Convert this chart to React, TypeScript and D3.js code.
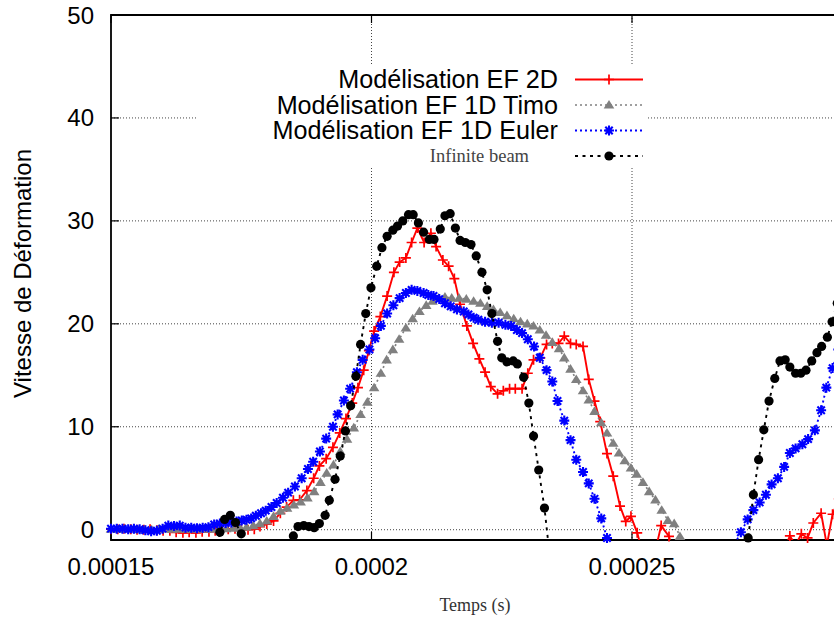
import React from 'react';
import * as d3 from 'd3';

// time in microseconds, value = strain rate
const US = 1e-6;
const xTickValues = [0.00015, 0.0002, 0.00025];
const yTickValues = [0, 10, 20, 30, 40, 50];
const seriesNames = ['Modélisation EF 2D', 'Modélisation EF 1D Timo', 'Modélisation EF 1D Euler', 'Infinite beam'];

const ef2D: [number, number][] = [
  [150.0, 0.05], [151.3, 0.05], [152.5, 0.1], [153.8, 0.05], [155.0, 0.0], [156.3, 0.0], [157.5, 0.05], [158.8, -0.05], [160.0, -0.1], [161.3, -0.1],
  [162.5, -0.25], [163.8, -0.3], [165.0, -0.25], [166.3, -0.3], [167.5, -0.2], [168.8, -0.2], [170.0, -0.1], [171.3, 0.0], [172.5, 0.05], [173.8, 0.1],
  [175.0, 0.05], [176.3, 0.0], [177.5, 0.05], [178.6, 0.3], [179.9, 0.55], [181.2, 0.85], [182.5, 1.6], [183.7, 2.2], [185.0, 2.85], [186.2, 2.9],
  [187.6, 3.8], [188.9, 5.0], [190.0, 6.2], [191.3, 6.9], [192.6, 8.0], [193.9, 9.4], [195.1, 10.8], [196.3, 12.3], [197.4, 13.8], [198.5, 15.5],
  [199.5, 17.4], [200.5, 19.3], [201.7, 20.7], [203.0, 22.7], [204.3, 25.0], [205.4, 26.0], [206.6, 26.4], [207.7, 27.9], [208.8, 29.3], [210.1, 27.9],
  [211.4, 28.8], [212.4, 27.5], [213.7, 26.2], [214.8, 25.6], [215.9, 24.4], [217.0, 21.9], [218.3, 19.8], [219.5, 18.1], [220.7, 16.6], [221.8, 15.3],
  [222.9, 13.9], [224.2, 13.2], [225.3, 13.5], [226.5, 13.7], [227.6, 13.7], [228.9, 13.7], [230.0, 15.2], [231.1, 16.5], [232.4, 16.7], [233.6, 18.0],
  [234.7, 18.1], [235.9, 18.1], [237.0, 18.8], [238.2, 18.1], [239.3, 18.0], [240.6, 17.8], [241.7, 14.6], [242.8, 12.5], [243.9, 10.5], [245.2, 7.4],
  [246.4, 5.2], [247.7, 2.3], [248.8, 0.8], [249.8, 1.3], [251.0, -0.3], [252.2, -2.5], [253.4, -3.5], [254.5, -2.0], [255.6, 0.4], [257.1, -0.65],
  [258.3, -3.0], [262.0, -5.0], [268.0, -6.0], [274.0, -5.0], [278.0, -3.0], [279.2, -2.0], [280.3, -0.6], [281.4, -1.5], [282.5, -0.4], [283.7, -0.8],
  [284.8, 0.65], [286.3, 1.6], [287.4, -1.5], [288.5, 1.5], [289.7, 3.0],
];

const ef1DTimo: [number, number][] = [
  [150.0, 0.05], [151.3, 0.05], [152.6, 0.05], [153.9, 0.05], [155.2, 0.0], [156.5, 0.0], [157.8, 0.0], [159.1, 0.05], [160.4, 0.05], [161.7, 0.05],
  [163.0, 0.05], [164.3, 0.05], [165.6, 0.05], [166.9, 0.05], [168.2, 0.05], [169.5, 0.05], [170.8, 0.1], [172.1, 0.1], [173.4, 0.15], [174.7, 0.2],
  [176.0, 0.25], [177.3, 0.4], [178.6, 0.6], [179.9, 0.85], [181.2, 1.3], [182.5, 1.8], [183.8, 2.1], [185.1, 2.4], [186.4, 2.7], [187.7, 3.1],
  [189.0, 3.7], [190.2, 4.6], [191.4, 5.5], [192.7, 6.3], [194.0, 7.6], [195.3, 8.8], [196.6, 9.9], [197.9, 11.2], [199.2, 12.4], [200.5, 13.8],
  [201.8, 15.2], [202.9, 16.5], [204.1, 17.5], [205.3, 18.5], [206.6, 19.6], [207.9, 20.5], [209.2, 21.2], [210.5, 21.8], [211.7, 22.2], [212.9, 22.5],
  [214.1, 22.6], [215.4, 22.5], [216.8, 22.5], [218.2, 22.4], [219.6, 22.2], [220.9, 22.0], [222.2, 21.7], [223.4, 21.4], [224.7, 21.1], [226.0, 20.8],
  [227.3, 20.5], [228.6, 20.2], [229.9, 20.0], [231.1, 19.8], [232.3, 19.4], [233.5, 18.9], [234.7, 18.2], [236.0, 17.6], [237.0, 16.7], [238.2, 15.6],
  [239.3, 14.6], [240.6, 13.5], [241.7, 12.6], [242.8, 11.5], [244.1, 10.4], [245.2, 9.4], [246.4, 8.4], [247.5, 7.45], [248.6, 6.7], [249.8, 6.0],
  [250.9, 5.4], [252.1, 4.6], [253.3, 3.7], [254.5, 2.9], [255.7, 1.9], [256.9, 0.9], [258.1, 0.6], [259.2, -0.65], [260.4, -2.0], [265.0, -5.0],
  [270.0, -8.0], [280.0, -10.0], [292.0, -10.0],
];

const ef1DEuler: [number, number][] = [
  [150.0, 0.1], [151.1, 0.1], [152.2, 0.1], [153.3, 0.05], [154.4, 0.1], [155.5, 0.05], [156.6, -0.05], [157.7, -0.15], [158.8, -0.1], [159.9, 0.1],
  [161.0, 0.4], [162.1, 0.35], [163.2, 0.4], [164.3, 0.2], [165.4, 0.2], [166.5, 0.15], [167.6, 0.2], [168.7, 0.25], [169.8, 0.5], [170.9, 0.6],
  [172.0, 0.65], [173.1, 0.7], [174.1, 0.8], [175.1, 0.9], [176.0, 0.97], [176.9, 1.1], [177.8, 1.35], [178.8, 1.6], [179.7, 1.85], [180.8, 2.2],
  [181.8, 2.6], [183.0, 3.1], [184.0, 3.6], [185.3, 4.2], [186.6, 5.0], [187.8, 5.9], [188.8, 6.6], [190.1, 7.6], [191.3, 8.85], [192.6, 10.0],
  [193.5, 11.2], [194.7, 12.55], [195.9, 13.7], [197.2, 15.3], [198.3, 16.5], [199.6, 17.5], [200.7, 18.6], [201.8, 19.8], [203.0, 21.0], [204.2, 21.8],
  [205.4, 22.5], [206.6, 23.0], [207.7, 23.3], [208.8, 23.2], [210.0, 23.0], [210.9, 22.8], [211.9, 22.7], [213.0, 22.4], [214.1, 22.0], [215.2, 21.7],
  [216.4, 21.4], [217.7, 21.2], [218.6, 20.9], [219.6, 20.6], [220.5, 20.4], [221.8, 20.2], [223.1, 20.1], [224.4, 20.1], [225.7, 19.9], [226.8, 19.8],
  [227.9, 19.4], [228.9, 19.1], [230.0, 18.5], [231.2, 17.8], [232.3, 16.7], [233.6, 15.5], [234.7, 14.4], [235.7, 12.5], [237.0, 10.6], [238.2, 8.7],
  [239.3, 6.8], [240.6, 5.6], [241.7, 4.5], [242.8, 3.0], [244.1, 1.1], [245.2, -0.8], [246.4, -2.5], [250.0, -5.0], [255.0, -7.0], [260.0, -6.0],
  [265.0, -4.0], [268.5, -2.5], [269.7, -1.4], [270.9, -0.25], [272.2, 1.0], [273.3, 1.9], [274.5, 2.65], [275.7, 3.4], [276.8, 4.4], [278.0, 5.0],
  [279.2, 6.1], [280.3, 7.45], [281.4, 7.9], [282.7, 8.3], [283.8, 8.8], [285.1, 9.65], [286.3, 11.6], [287.3, 13.8], [288.5, 15.7], [289.6, 17.5],
];

const infiniteBeam: [number, number][] = [
  [150.0, -4.0], [160.0, -4.0], [166.0, -3.5], [169.9, -2.8], [170.9, -0.25], [171.8, 1.0], [172.9, 1.4], [173.9, 0.7], [175.0, -0.4], [176.0, -2.5],
  [180.0, -4.0], [184.0, -2.5], [185.0, -0.6], [185.9, 0.3], [187.0, 0.4], [188.0, 0.3], [189.0, 0.2], [190.0, 0.6], [191.1, 1.4], [191.9, 2.85],
  [193.0, 4.9], [194.0, 7.15], [195.0, 9.6], [196.0, 12.05], [197.0, 14.9], [197.9, 18.0], [198.9, 21.0], [199.9, 23.5], [201.0, 25.6], [202.0, 27.4],
  [203.0, 28.5], [204.1, 29.1], [205.0, 29.5], [206.0, 30.0], [207.1, 30.6], [208.0, 30.6], [209.0, 29.8], [210.0, 28.9], [211.1, 28.2], [212.0, 28.2],
  [213.2, 29.2], [214.1, 30.5], [215.1, 30.7], [216.1, 29.3], [217.0, 28.1], [218.0, 27.9], [219.1, 27.7], [220.1, 26.6], [221.2, 25.0], [222.2, 23.3],
  [223.1, 21.0], [224.2, 18.3], [225.0, 16.7], [226.0, 16.3], [227.2, 16.4], [228.0, 16.1], [229.2, 14.8], [230.2, 12.3], [231.1, 9.1], [232.1, 5.8],
  [233.2, 2.1], [234.2, -2.5], [240.0, -8.0], [250.0, -10.0], [260.0, -10.0], [268.0, -7.0], [271.3, -4.0], [272.3, -0.8], [273.3, 3.4], [274.3, 6.8],
  [275.3, 9.7], [276.3, 12.5], [277.4, 14.7], [278.4, 16.4], [279.4, 16.5], [280.3, 15.8], [281.4, 15.2], [282.4, 15.2], [283.4, 15.5], [284.5, 16.4],
  [285.5, 17.2], [286.4, 17.8], [287.5, 18.7], [288.4, 20.2], [289.4, 22.0], [290.4, 24.5],
];

const SANS = "'Liberation Sans', Arial, Helvetica, sans-serif";
const SERIF = "'Liberation Serif', 'Times New Roman', serif";

const plusPath = 'M-5,0H5M0,-5V5';
const starPath = 'M-5,0H5M0,-5V5M-3.7,-3.7L3.7,3.7M-3.7,3.7L3.7,-3.7';
const triPath = 'M0,-5L5.3,3.6L-5.3,3.6Z';

function Marker({ kind, cx, cy }: { kind: string; cx: number; cy: number }) {
  const t = `translate(${cx},${cy})`;
  if (kind === 'plus') return <path d={plusPath} transform={t} stroke="#ff0000" strokeWidth={1.7} fill="none" />;
  if (kind === 'star') return <path d={starPath} transform={t} stroke="#0000ff" strokeWidth={2.1} fill="none" />;
  if (kind === 'tri') return <path d={triPath} transform={t} fill="#808080" />;
  return <circle cx={cx} cy={cy} r={4.6} fill="#000" />;
}

export default function App() {
  const W = 834, H = 619;
  const left = 111, top = 15, bottom = 540, right = 892.5;
  const x = d3.scaleLinear().domain([150 * US, 300 * US]).range([left, right]);
  const y = d3.scaleLinear().domain([-1, 50]).range([bottom, top]);
  const line = d3.line<[number, number]>().x(d => x(d[0] * US)).y(d => y(d[1]));
  const inside = (d: [number, number]) => d[1] >= -1 && d[1] <= 50 && d[0] >= 150 && d[0] <= 300;

  const series = [
    { name: seriesNames[0], data: ef2D, color: '#ff0000', dash: undefined as string | undefined, width: 1.9, marker: 'plus' },
    { name: seriesNames[1], data: ef1DTimo, color: '#808080', dash: '2,3', width: 1.7, marker: 'tri' },
    { name: seriesNames[2], data: ef1DEuler, color: '#0000ff', dash: '2,3', width: 1.9, marker: 'star' },
    { name: seriesNames[3], data: infiniteBeam, color: '#000000', dash: '3,4.5', width: 1.9, marker: 'circle' },
  ];

  const legendY = [79.5, 105, 130.5, 156];
  const gridStyle = { stroke: '#444', strokeWidth: 1, strokeDasharray: '1,2' };

  return (
    <svg width={W} height={H} style={{ position: 'absolute', left: 0, top: 0, display: 'block', background: '#fff' }}>
      <defs>
        <clipPath id="plotclip">
          <rect x={left} y={top} width={right - left} height={bottom - top} />
        </clipPath>
      </defs>
      <rect x={0} y={0} width={W} height={H} fill="#fff" />
      {/* grid */}
      {xTickValues.slice(1).map(v => (
        <line key={'gx' + v} x1={x(v)} x2={x(v)} y1={top} y2={bottom} {...gridStyle} />
      ))}
      {yTickValues.slice(0, -1).map(v => (
        <line key={'gy' + v} x1={left} x2={right} y1={y(v)} y2={y(v)} {...gridStyle} />
      ))}
      {/* opaque legend box */}
      <rect x={197} y={66} width={451} height={102} fill="#fff" />
      {/* ticks */}
      {xTickValues.map(v => (
        <g key={'tx' + v}>
          <line x1={x(v)} x2={x(v)} y1={bottom} y2={bottom - 8} stroke="#000" strokeWidth={1.2} />
          <line x1={x(v)} x2={x(v)} y1={top} y2={top + 8} stroke="#000" strokeWidth={1.2} />
        </g>
      ))}
      {yTickValues.map(v => (
        <line key={'ty' + v} x1={left} x2={left + 8} y1={y(v)} y2={y(v)} stroke="#000" strokeWidth={1.2} />
      ))}
      {/* frame */}
      <path d={`M${right},${top}H${left}V${bottom}H${right}`} fill="none" stroke="#000" strokeWidth={1.8} />
      {/* tick labels */}
      {xTickValues.map(v => (
        <text key={'lx' + v} x={x(v)} y={574.5} textAnchor="middle" fontFamily={SANS} fontSize={24} fill="#000">{String(v)}</text>
      ))}
      {yTickValues.map(v => (
        <text key={'ly' + v} x={94} y={y(v) + 8.5} textAnchor="end" fontFamily={SANS} fontSize={24} fill="#000">{String(v)}</text>
      ))}
      {/* axis titles */}
      <text transform="translate(31,273.5) rotate(-90)" textAnchor="middle" fontFamily={SANS} fontSize={24} fill="#000">Vitesse de Déformation</text>
      <text x={475} y={611} textAnchor="middle" fontFamily={SERIF} fontSize={18} fill="#333">Temps (s)</text>
      {/* data */}
      {series.map(s => (
        <g key={s.name}>
          <path d={line(s.data) || ''} fill="none" stroke={s.color} strokeWidth={s.width} strokeDasharray={s.dash} clipPath="url(#plotclip)" />
          {s.data.filter(inside).map((d, i) => (
            <Marker key={i} kind={s.marker} cx={x(d[0] * US)} cy={y(d[1])} />
          ))}
        </g>
      ))}
      {/* legend */}
      {series.map((s, i) => (
        <g key={'leg' + i}>
          {i < 3 ? (
            <text x={558} y={legendY[i] + 8.8} textAnchor="end" fontFamily={SANS} fontSize={25.2} fill="#000">{s.name}</text>
          ) : (
            <text x={529} y={legendY[i] + 5.5} textAnchor="end" fontFamily={SERIF} fontSize={18.5} fill="#444">{s.name}</text>
          )}
          <line x1={575} x2={643} y1={legendY[i]} y2={legendY[i]} stroke={s.color} strokeWidth={s.width} strokeDasharray={s.dash} />
          <Marker kind={s.marker} cx={609} cy={legendY[i]} />
        </g>
      ))}
    </svg>
  );
}
